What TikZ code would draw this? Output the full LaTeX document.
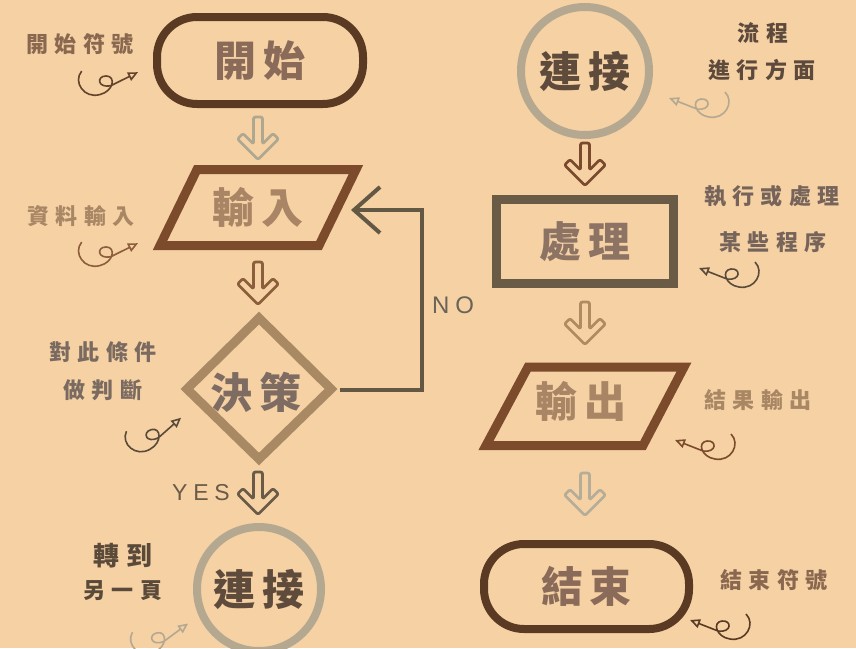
\documentclass[tikz,border=0pt]{standalone}
\usepackage{fontspec}
\newfontfamily\cjk{Noto Sans CJK TC}
\newfontfamily\cjksp[LetterSpace=28]{Noto Sans CJK TC}
\newfontfamily\cjkbig[LetterSpace=16]{Noto Sans CJK TC}
\newfontfamily\latsp[LetterSpace=25]{Liberation Sans}
\usetikzlibrary{arrows.meta,calc}
\definecolor{bg}{HTML}{F5D1A4}
\definecolor{termc}{HTML}{5A3A22}
\definecolor{termtxt}{HTML}{8A6A58}
\definecolor{circc}{HTML}{B5A891}
\definecolor{circtxt}{HTML}{5E4B3C}
\definecolor{inc}{HTML}{7B4B2B}
\definecolor{intxt}{HTML}{A98565}
\definecolor{procc}{HTML}{6A5B47}
\definecolor{proctxt}{HTML}{8C7364}
\definecolor{decc}{HTML}{A98963}
\definecolor{dectxt}{HTML}{7E6B62}
\definecolor{noc}{HTML}{625844}
\definecolor{aA}{HTML}{AFA891}
\definecolor{aB}{HTML}{8B5E3C}
\definecolor{aC}{HTML}{6A5A48}
\definecolor{aD}{HTML}{7A4A2E}
\definecolor{aE}{HTML}{B08B62}
\definecolor{aF}{HTML}{B5AD98}
\definecolor{nA}{HTML}{8A6850}
\definecolor{nB}{HTML}{5D4A3C}
\definecolor{nC}{HTML}{A98765}
\definecolor{nD}{HTML}{7A6A60}
\definecolor{nE}{HTML}{76645A}
\definecolor{nF}{HTML}{5A4A3A}
\definecolor{lat}{HTML}{6A6358}
\tikzset{
  big/.style={font=\cjkbig\bfseries\fontsize{42}{44}\selectfont, inner sep=0pt},
  ann/.style={font=\cjksp\bfseries\fontsize{22}{24}\selectfont, inner sep=0pt},
  term/.style={draw=termc, line width=8pt, rounded corners=40pt, text=termtxt, big},
  conn/.style={circle, draw=circc, line width=8pt, text=circtxt, big},
  harrow/.pic={\draw[line width=2.8pt, line join=round, rounded corners=2pt]
    (-4.5,0) -- (4.5,0) -- (4.5,27) -- (15,16.5) -- (20.5,22) -- (0,42.5)
    -- (-20.5,22) -- (-15,16.5) -- (-4.5,27) -- cycle;},
  curl/.pic={\draw[line width=1.6pt, -{Triangle[open,length=10pt,width=9pt]}]
    (-58,-6) .. controls (-68,4) and (-58,22) .. (-42,19)
    .. controls (-28,17) and (-24,2) .. (-34,1)
    .. controls (-44,0) and (-44,13) .. (-30,11) -- (-2,0);}
}
\begin{document}
\begin{tikzpicture}[x=1pt,y=-1pt]
\fill[bg] (0,0) rectangle (856,648);
\useasboundingbox (0,0) rectangle (856,648);

% ---- left column ----
\node[term, minimum width=206pt, minimum height=87pt] (start) at (260,60.5) {開始};
\draw[inc, line width=9pt, line join=miter] (197,169.5) -- (356,169.5) -- (319,245.5) -- (160,245.5) -- cycle;
\node[big, text=intxt] (input) at (258,207) {輸入};
\coordinate (inE) at (351,210);
\draw[decc, line width=9pt, line join=miter] (259,318) -- (331,389) -- (259,459) -- (187,389) -- cycle;
\node[big, text=dectxt] (dec) at (256,392) {決策};
\coordinate (decE) at (340,390);
\node[conn, minimum size=124pt] (c2) at (259,589) {連接};

\pic[color=aA] at ($(start.south)+(-2,9)$) {harrow};
\pic[color=aB] at (258,262) {harrow};
\pic[color=aC] at (258,472) {harrow};

\draw[noc, line width=4pt, -{Straight Barb[length=26pt,width=46pt]}] (decE) -- (422,390) |- (inE);
\node[font=\latsp\fontsize{24}{26}\selectfont, text=lat] (no) at (453,305) {NO};
\node[font=\latsp\fontsize{23}{26}\selectfont, text=aC] (yes) at (201,493) {YES};

% ---- right column ----
\node[conn, minimum size=128pt] (c1) at (585,71) {連接};
\node[draw=procc, line width=9pt, minimum width=177pt, minimum height=84pt, text=proctxt, big] (proc) at (585,241.5) {處理};
\draw[inc, line width=9pt, line join=miter] (528,367) -- (684,367) -- (643,445.5) -- (486,445.5) -- cycle;
\node[big, text=intxt] (output) at (581,401) {輸出};
\node[term, minimum width=205pt, minimum height=85pt] (end) at (586.5,586.5) {結束};

\pic[color=aD] at (585,143) {harrow};
\pic[color=aE] at (585,302) {harrow};
\pic[color=aF] at (585,473) {harrow};

% ---- annotations ----
\node[ann, text=nA] (t1) at (80,44) {開始符號};
\pic[color=termc!80!nA, rotate=5] at (140,72) {curl};
\node[ann, text=nC] (t2) at (81,216) {資料輸入};
\pic[color=aB, rotate=5] at (140,243) {curl};
\node[ann, text=nD] (t3a) at (103,352) {對此條件};
\node[ann, text=nD] (t3b) at (103,390) {做判斷};
\pic[color=nF, rotate=20] at (183,417) {curl};
\node[ann, text=nF, font=\cjksp\bfseries\fontsize{26}{28}\selectfont] (t4a) at (123,556) {轉到};
\node[ann, text=nF] (t4b) at (123,591) {另一頁};
\pic[color=circc, rotate=15] at (190,623) {curl};

\node[ann, text=nB] (t5a) at (763,33) {流程};
\node[ann, text=nB] (t5b) at (762,70) {進行方面};
\pic[color=circc, xscale=-1] at (667,98) {curl};
\node[ann, text=nE] (t6a) at (772,196) {執行或處理};
\node[ann, text=nE] (t6b) at (773,242) {某些程序};
\pic[color=nF, xscale=-1] at (697,268) {curl};
\node[ann, text=nC] (t7) at (758,400) {結果輸出};
\pic[color=inc, xscale=-1] at (673,440) {curl};
\node[ann, text=nA] (t8) at (774,580) {結束符號};
\pic[color=termc, xscale=-1] at (688,620) {curl};
\end{tikzpicture}
\end{document}
